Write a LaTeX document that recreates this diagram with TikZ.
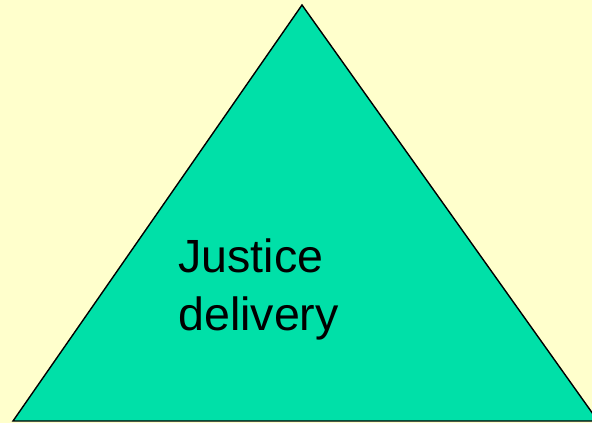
\documentclass[tikz,border=0pt]{standalone}
\usepackage{fontspec}
\setmainfont{Liberation Sans}
\usepackage{tikz}
\usetikzlibrary{positioning}
\definecolor{paper}{RGB}{255,255,204}
\definecolor{jade}{RGB}{0,224,168}

\begin{document}
\begin{tikzpicture}[x=0.02cm,y=-0.02cm]
  \useasboundingbox (0,0) rectangle (592,423);
  \fill[paper] (0,0) rectangle (592,423);
  \coordinate (apex) at (302,5); \coordinate (bl) at (13,421); \coordinate (br) at (598,421);
  \filldraw[fill=jade,draw=black,line width=0.8pt,line join=miter] (apex) -- (bl) -- (br) -- cycle;
  \node[anchor=base west,inner sep=0pt,align=left,font=\fontsize{26.5pt}{33pt}\selectfont] (label) at (178,330) {Justice\\delivery};
\end{tikzpicture}
\end{document}
